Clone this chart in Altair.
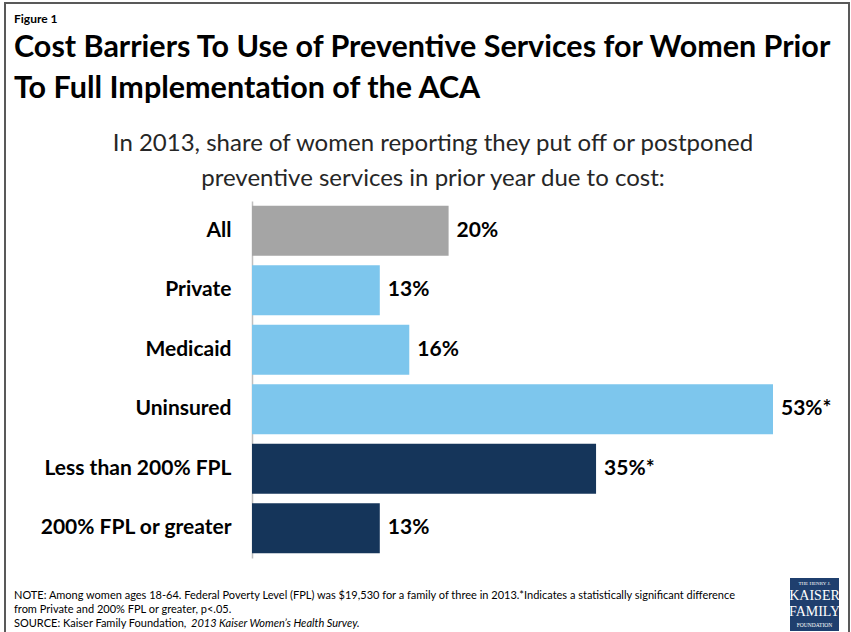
import altair as alt
import pandas as pd

categories = ["All", "Private", "Medicaid", "Uninsured", "Less than 200% FPL", "200% FPL or greater"]
values = [20, 13, 16, 53, 35, 13]
labels = ["20%", "13%", "16%", "53%*", "35%*", "13%"]
groups = ["all", "insurance", "insurance", "insurance", "income", "income"]
group_colors = {"all": "#A5A5A5", "insurance": "#7DC6ED", "income": "#15355A"}

fig_label = "Figure 1"
title_lines = ["Cost Barriers To Use of Preventive Services for Women Prior",
               "To Full Implementation of the ACA"]
subtitle_lines = ["In 2013, share of women reporting they put off or postponed",
                  "preventive services in prior year due to cost:"]
note_lines = ["NOTE: Among women ages 18-64.  Federal Poverty Level (FPL) was $19,530 for a family of three in 2013.*Indicates a statistically significant difference",
              "from Private and 200% FPL or greater, p<.05."]
source_prefix = "SOURCE: Kaiser Family Foundation, "
source_italic = "2013 Kaiser Women\u2019s Health Survey."
logo_lines = ["THE HENRY J.", "KAISER", "FAMILY", "FOUNDATION"]

df = pd.DataFrame({"cat": categories, "val": values, "lab": labels, "grp": groups})

FONT = "Lato"
W, H = 521, 357
OX, OY = 252, 201  # plot origin in page pixels

y_enc = alt.Y("cat:N", sort=categories,
              scale=alt.Scale(paddingInner=0.16, paddingOuter=0.08),
              axis=alt.Axis(title=None, ticks=False, domainColor="#BFBFBF", domainWidth=1.5,
                            labelFont=FONT, labelFontSize=21, labelFontWeight="bold",
                            labelColor="#000000", labelPadding=21, labelLimit=300))
x_enc = alt.X("val:Q", scale=alt.Scale(domain=[0, 53], nice=False), axis=None)

bars = alt.Chart(df).mark_bar().encode(
    y=y_enc, x=x_enc,
    color=alt.Color("grp:N", scale=alt.Scale(domain=list(group_colors.keys()),
                                             range=list(group_colors.values())), legend=None),
)
vals = alt.Chart(df).mark_text(align="left", baseline="middle", dx=8, font=FONT,
                               fontSize=21, fontWeight="bold", color="#000000").encode(
    y=alt.Y("cat:N", sort=categories), x="val:Q", text="lab:N")


def txt(s, X, Y, size, weight="normal", align="left", color="#000000", style="normal", font=FONT):
    return alt.Chart(pd.DataFrame({"t": [s]})).mark_text(
        align=align, baseline="alphabetic", font=font, fontSize=size, fontWeight=weight,
        color=color, fontStyle=style).encode(
        x=alt.value(X - OX), y=alt.value(Y - OY), text="t:N")


layers = [bars, vals]
layers.append(txt(fig_label, 14, 23, 12, "bold"))
layers.append(txt(title_lines[0], 14, 57, 30.5, "bold"))
layers.append(txt(title_lines[1], 14, 98, 30.5, "bold"))
layers.append(txt(subtitle_lines[0], 433, 151, 24, color="#262626", align="center"))
layers.append(txt(subtitle_lines[1], 433, 186, 24, color="#262626", align="center"))
layers.append(txt(note_lines[0], 14, 599, 11))
layers.append(txt(note_lines[1], 14, 613, 11))
layers.append(txt(source_prefix, 14, 627, 11))
layers.append(txt(source_italic, 191, 627, 11, style="italic"))

border = alt.Chart(pd.DataFrame({"a": [0]})).mark_rect(
    fill="transparent", stroke="#595959", strokeWidth=2).encode(
    x=alt.value(5 - OX), x2=alt.value(849 - OX), y=alt.value(3 - OY), y2=alt.value(660 - OY))
layers.append(border)

logo = alt.Chart(pd.DataFrame({"a": [0]})).mark_rect(fill="#1F3F6E").encode(
    x=alt.value(790 - OX), x2=alt.value(839 - OX), y=alt.value(578 - OY), y2=alt.value(631 - OY))
layers.append(logo)
layers.append(txt(logo_lines[0], 814.5, 585, 5, align="center", color="#FFFFFF", font="Liberation Serif"))
layers.append(txt(logo_lines[1], 814.5, 600, 14, align="center", color="#FFFFFF", font="Liberation Serif"))
layers.append(txt(logo_lines[2], 814.5, 616, 14, align="center", color="#FFFFFF", font="Liberation Serif"))
layers.append(txt(logo_lines[3], 814.5, 627, 5.5, align="center", color="#FFFFFF", font="Liberation Serif"))

chart = alt.layer(*layers).properties(
    width=W, height=H,
    autosize=alt.AutoSizeParams(type="none"),
    padding={"left": OX, "top": OY, "right": 851 - OX - W, "bottom": 632 - OY - H},
    background="#FFFFFF",
).configure_view(stroke=None)

chart.save("out.html", embed_options={"renderer": "svg", "actions": False})
